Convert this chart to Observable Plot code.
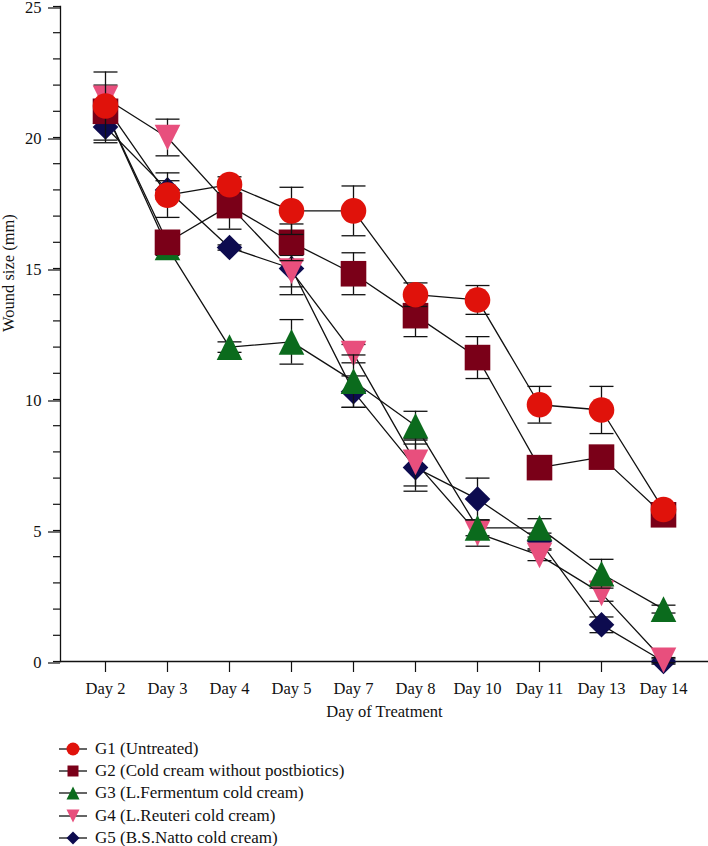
<!DOCTYPE html>
<html>
<head>
<meta charset="utf-8">
<script src="https://cdn.jsdelivr.net/npm/d3@7"></script>
<script src="https://cdn.jsdelivr.net/npm/@observablehq/plot@0.6"></script>
<style>
  body { margin: 0; background: #fff; font-family: "Liberation Serif", "DejaVu Serif", serif; }
  #legend { padding: 10px 0 0 58px; font-size: 17px; color: #111; }
  .row { display: flex; align-items: center; height: 22.2px; }
  .row svg { margin-right: 7px; }
</style>
</head>
<body>
<div id="chart"></div>
<div id="legend"></div>
<script>
// ---- data ----
const days = ["Day 2", "Day 3", "Day 4", "Day 5", "Day 7", "Day 8", "Day 10", "Day 11", "Day 13", "Day 14"];
const groupNames = [
  "G1 (Untreated)",
  "G2 (Cold cream without postbiotics)",
  "G3 (L.Fermentum cold cream)",
  "G4 (L.Reuteri cold cream)",
  "G5 (B.S.Natto cold cream)"
];
const g1 = [21.2, 17.8, 18.2, 17.2, 17.2, 14.0, 13.8, 9.8, 9.6, 5.8];
const g1err = [1.3, 0.85, 0.3, 0.9, 0.95, 0.45, 0.55, 0.7, 0.9, 0.2];
const g2 = [21.0, 16.0, 17.4, 16.0, 14.8, 13.2, 11.6, 7.4, 7.8, 5.6];
const g2err = [0.4, 0.3, 0.9, 0.7, 0.8, 0.8, 0.8, 0.15, 0.15, 0.2];
const g3 = [21.0, 15.8, 12.0, 12.2, 10.7, 9.0, 5.1, 5.1, 3.35, 2.0];
const g3err = [0.4, 0.3, 0.2, 0.85, 1.0, 0.55, 0.3, 0.35, 0.55, 0.15];
const g4 = [21.5, 20.0, 17.4, 14.9, 11.75, 7.6, 4.9, 4.05, 2.6, 0.05];
const g4err = [0.5, 0.7, 0.4, 0.6, 0.35, 0.9, 0.5, 0.2, 0.3, 0.1];
const g5 = [20.4, 18.0, 15.8, 15.0, 10.3, 7.4, 6.2, 4.6, 1.4, 0.0];
const g5err = [0.6, 0.35, 0.1, 1.0, 0.6, 0.9, 0.8, 0.3, 0.3, 0.1];
const yMajorTicks = [0, 5, 10, 15, 20, 25];

// ---- styles ----
const colors = ["#e0120b", "#7a0018", "#0b6b1d", "#e84f7d", "#0d0b4f"];
const R = (size) => Math.sqrt(size / Math.PI);
const symSquare = {draw(c, s) { const r = R(s); c.rect(-r, -r, 2 * r, 2 * r); }};
const symTriUp = {draw(c, s) { const r = R(s); c.moveTo(0, -r); c.lineTo(r, r); c.lineTo(-r, r); c.closePath(); }};
const symTriDown = {draw(c, s) { const r = R(s); c.moveTo(0, r); c.lineTo(r, -r); c.lineTo(-r, -r); c.closePath(); }};
const symDiamond = {draw(c, s) { const r = R(s); c.moveTo(0, -r); c.lineTo(r, 0); c.lineTo(0, r); c.lineTo(-r, 0); c.closePath(); }};
const symCircle = {draw(c, s) { const r = R(s); c.moveTo(r, 0); c.arc(0, 0, r, 0, 2 * Math.PI); }};
const symCap = {draw(c, s) { c.moveTo(-12, 0); c.lineTo(12, 0); }};
const symbols = [symCircle, symSquare, symTriUp, symTriDown, symDiamond];
const sizes = [12.8, 12.8, 12.8, 12.8, 12.8];
const legendSizes = [6.5, 5.5, 6.5, 6.5, 6.5];

const series = [[g1, g1err], [g2, g2err], [g3, g3err], [g4, g4err], [g5, g5err]];
const data = [];
series.forEach(([vals, errs], gi) => {
  days.forEach((d, i) => data.push({group: groupNames[gi], gi, day: d, value: vals[i], err: errs[i]}));
});

const marks = [
  Plot.frame({anchor: "left", stroke: "#111", strokeWidth: 1.3}),
  Plot.ruleY([0], {stroke: "#111", strokeWidth: 1.3}),
  Plot.axisY({ticks: d3.range(0, 26), tickSize: 7, tickFormat: () => "", label: null, strokeWidth: 1.2}),
  Plot.axisY({ticks: yMajorTicks, tickSize: 12, tickPadding: 7, label: null, fontSize: 16.5, strokeWidth: 1.2, dy: 1.5}),
  Plot.axisX({tickSize: 11, tickPadding: 10, label: null, fontSize: 16.5, strokeWidth: 1.2}),
  Plot.text(["Day of Treatment"], {frameAnchor: "bottom", dy: 50, lineAnchor: "middle", fontSize: 16.5, fill: "#111"}),
  Plot.text(["Wound size (mm)"], {frameAnchor: "left", dx: -52, dy: -2, rotate: -90, lineAnchor: "middle", fontSize: 16.5, fill: "#111"}),
  Plot.line(data, {x: "day", y: "value", z: "group", stroke: "#111", strokeWidth: 1.3})
];
for (let gi = 4; gi >= 0; gi--) {
  const sub = data.filter(d => d.gi === gi);
  marks.push(
    Plot.ruleX(sub, {x: "day", y1: d => d.value - d.err, y2: d => d.value + d.err, stroke: "#111", strokeWidth: 1.3}),
    Plot.dot(sub, {x: "day", y: d => d.value - d.err, symbol: symCap, r: 5, stroke: "#111", strokeWidth: 1.3, fill: "none"}),
    Plot.dot(sub, {x: "day", y: d => d.value + d.err, symbol: symCap, r: 5, stroke: "#111", strokeWidth: 1.3, fill: "none"}),
    Plot.dot(sub, {x: "day", y: "value", symbol: symbols[gi], r: sizes[gi], fill: colors[gi], stroke: "none"})
  );
}

const chart = Plot.plot({
  width: 708,
  height: 728,
  marginLeft: 60,
  marginRight: 0,
  marginTop: 6,
  marginBottom: 67,
  style: {fontFamily: "'Liberation Serif', 'DejaVu Serif', serif", fontSize: "16px", color: "#111", background: "#fff", overflow: "visible"},
  x: {type: "point", domain: days, padding: 0.7},
  y: {domain: [0, 25]},
  marks
});
document.getElementById("chart").appendChild(chart);

// ---- legend ----
const legend = d3.select("#legend");
groupNames.forEach((name, gi) => {
  const row = legend.append("div").attr("class", "row");
  const svg = row.append("svg").attr("width", 30).attr("height", 22);
  svg.append("line").attr("x1", 1).attr("x2", 29).attr("y1", 11).attr("y2", 11).attr("stroke", "#111").attr("stroke-width", 1.3);
  const s = legendSizes[gi];
  svg.append("path").attr("transform", "translate(15,11)")
    .attr("d", d3.symbol(symbols[gi], Math.PI * s * s)())
    .attr("fill", colors[gi]);
  row.append("span").text(name);
});
</script>
</body>
</html>
